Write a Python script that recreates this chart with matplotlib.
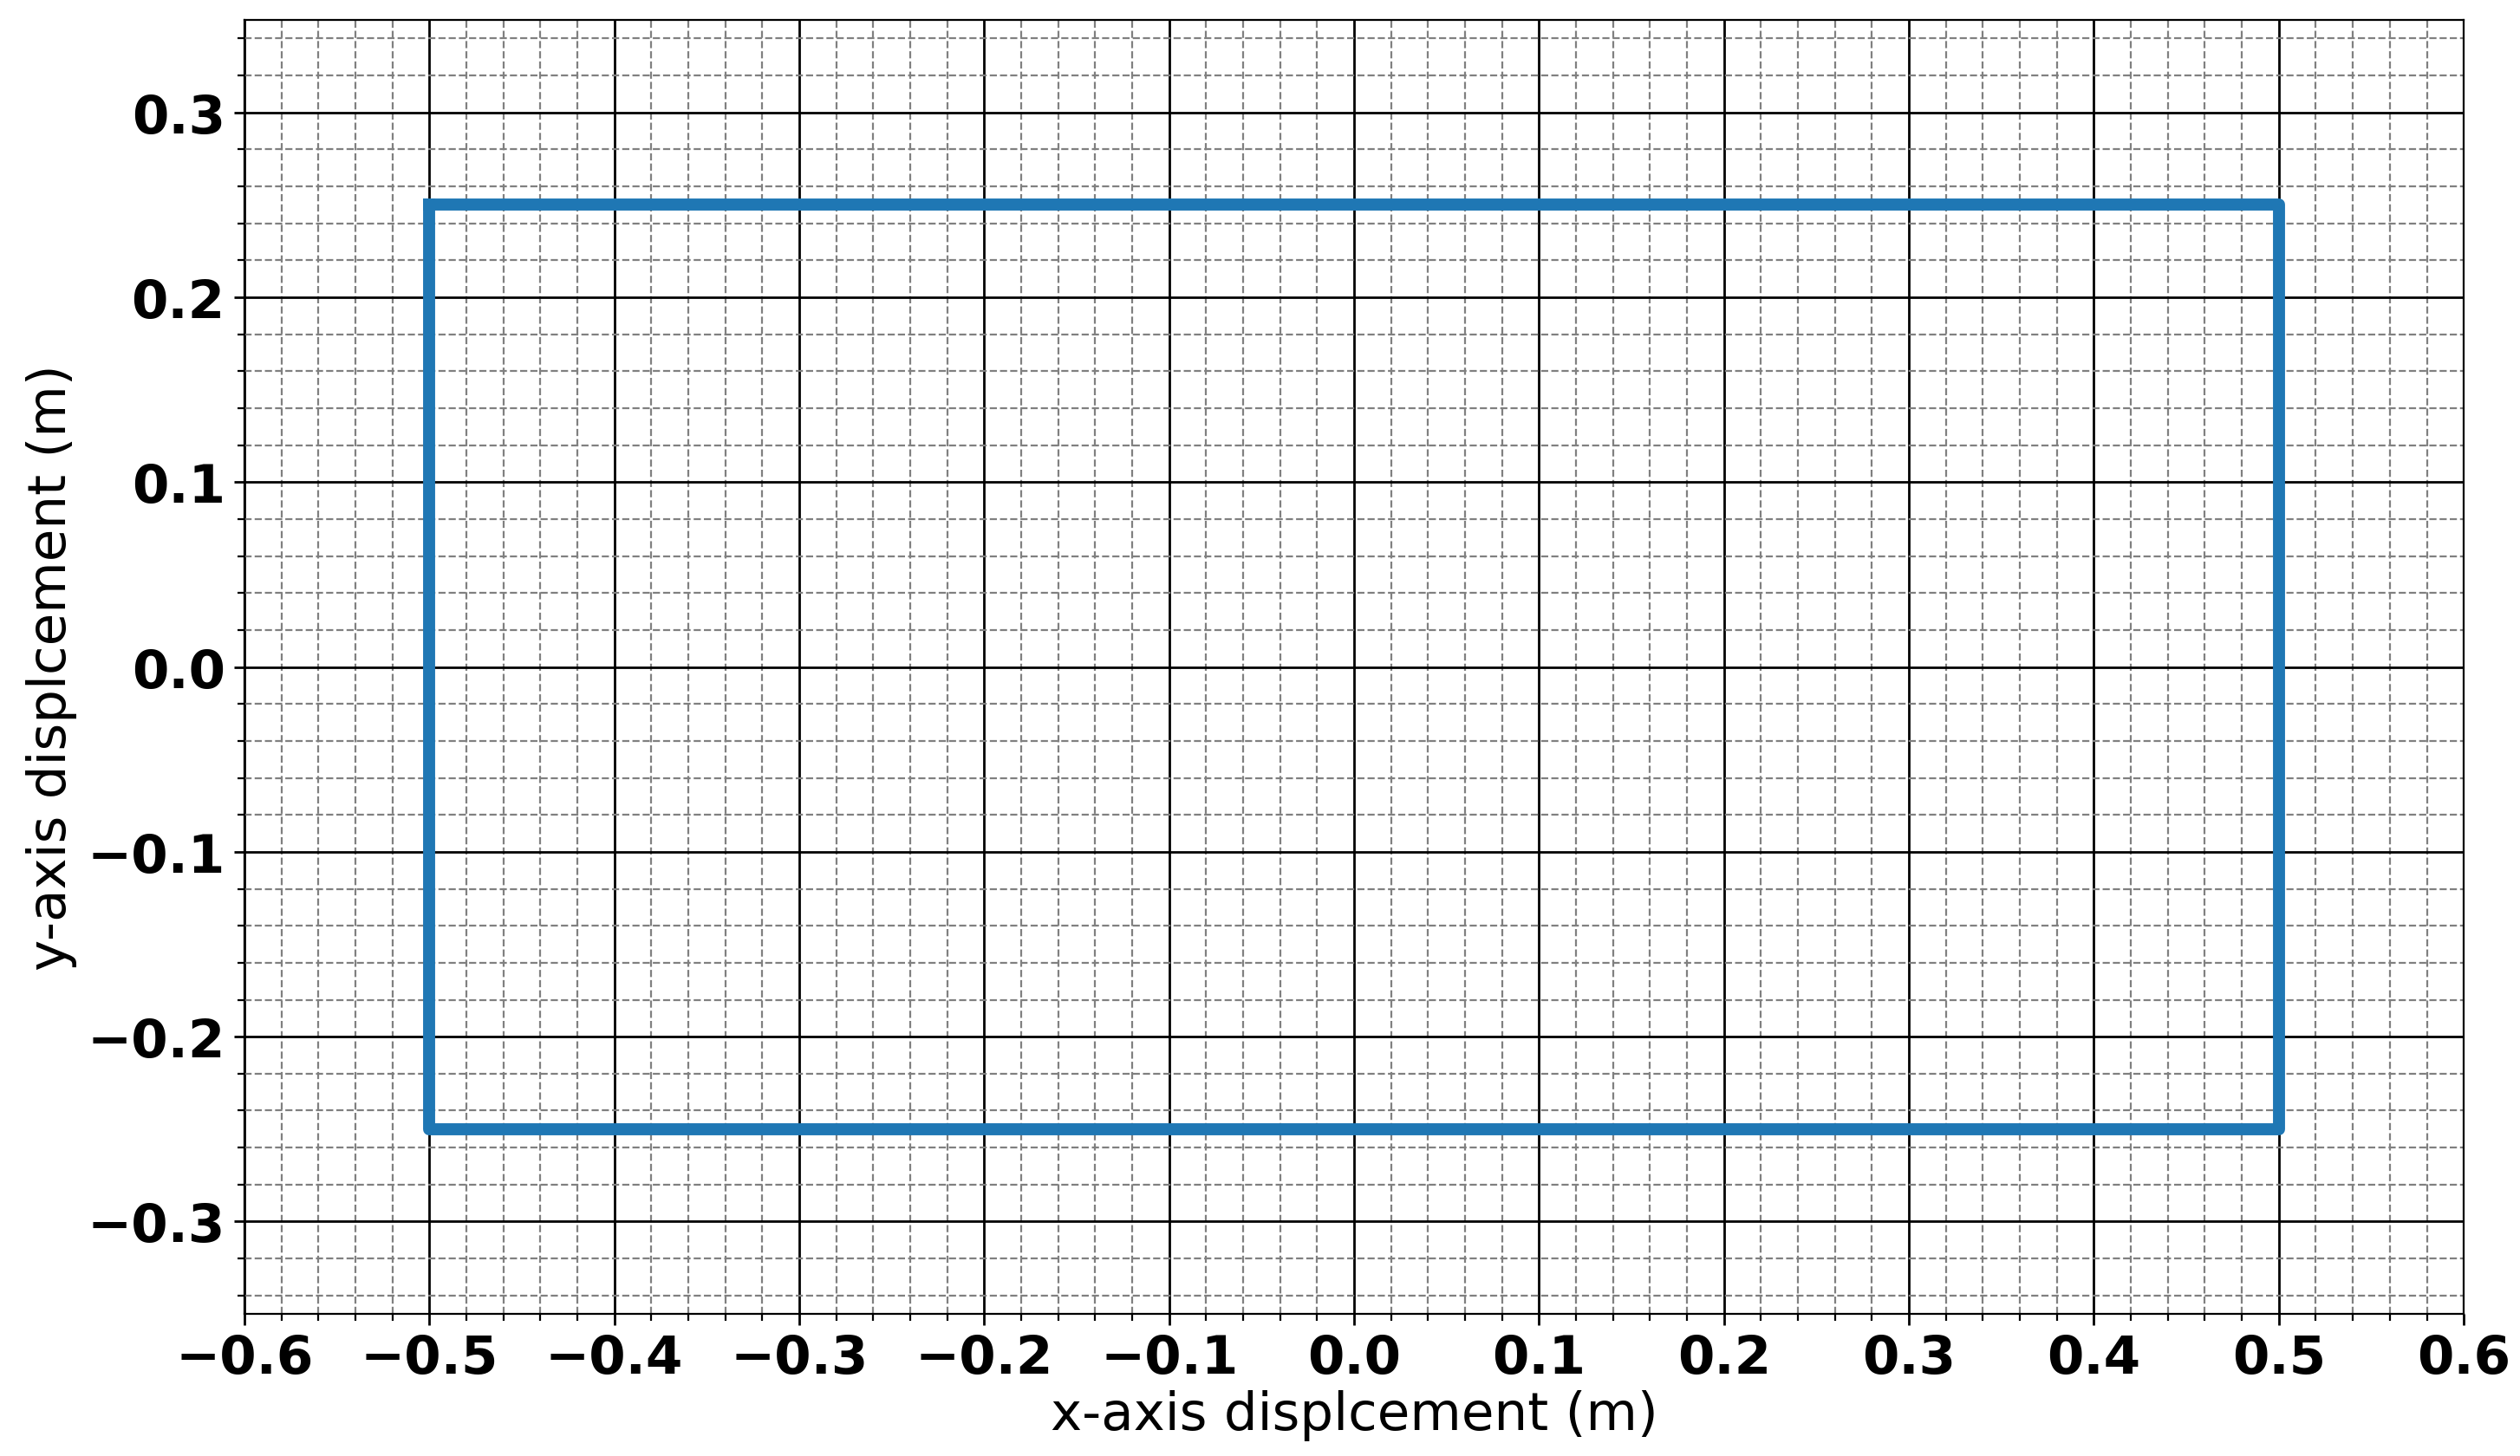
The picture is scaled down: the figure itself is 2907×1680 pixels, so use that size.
import matplotlib
matplotlib.use("Agg")
import matplotlib.pyplot as plt
from matplotlib.ticker import MultipleLocator

# rectangle outline (m)
rect_x = [-0.5, 0.5, 0.5, -0.5, -0.5]
rect_y = [0.25, 0.25, -0.25, -0.25, 0.25]

x_limits = [-0.6, 0.6]
y_limits = [-0.35, 0.35]

fig = plt.figure(figsize=(2907 / 200, 1681 / 200), dpi=200)
ax = fig.add_axes([0.097, 0.0975, 0.9777 - 0.097, 0.9857 - 0.0975])

ax.plot(rect_x, rect_y, color="#1f77b4", linewidth=5)

ax.set_xlim(x_limits)
ax.set_ylim(y_limits)

ax.xaxis.set_major_locator(MultipleLocator(0.1))
ax.xaxis.set_minor_locator(MultipleLocator(0.02))
ax.yaxis.set_major_locator(MultipleLocator(0.1))
ax.yaxis.set_minor_locator(MultipleLocator(0.02))

ax.grid(which="major", color="black", linestyle="-", linewidth=1.0)
ax.grid(which="minor", color="gray", linestyle="--", linewidth=0.8)
ax.set_axisbelow(True)

ax.tick_params(which="major", length=4.5, width=1, labelsize=22)
ax.tick_params(which="minor", length=3, width=0.8)
for lab in ax.get_xticklabels() + ax.get_yticklabels():
    lab.set_fontweight("bold")

ax.set_xlabel("x-axis displcement (m)", fontsize=22, labelpad=2)
ax.set_ylabel("y-axis displcement (m)", fontsize=22)

fig.savefig("out.png", dpi=200)
